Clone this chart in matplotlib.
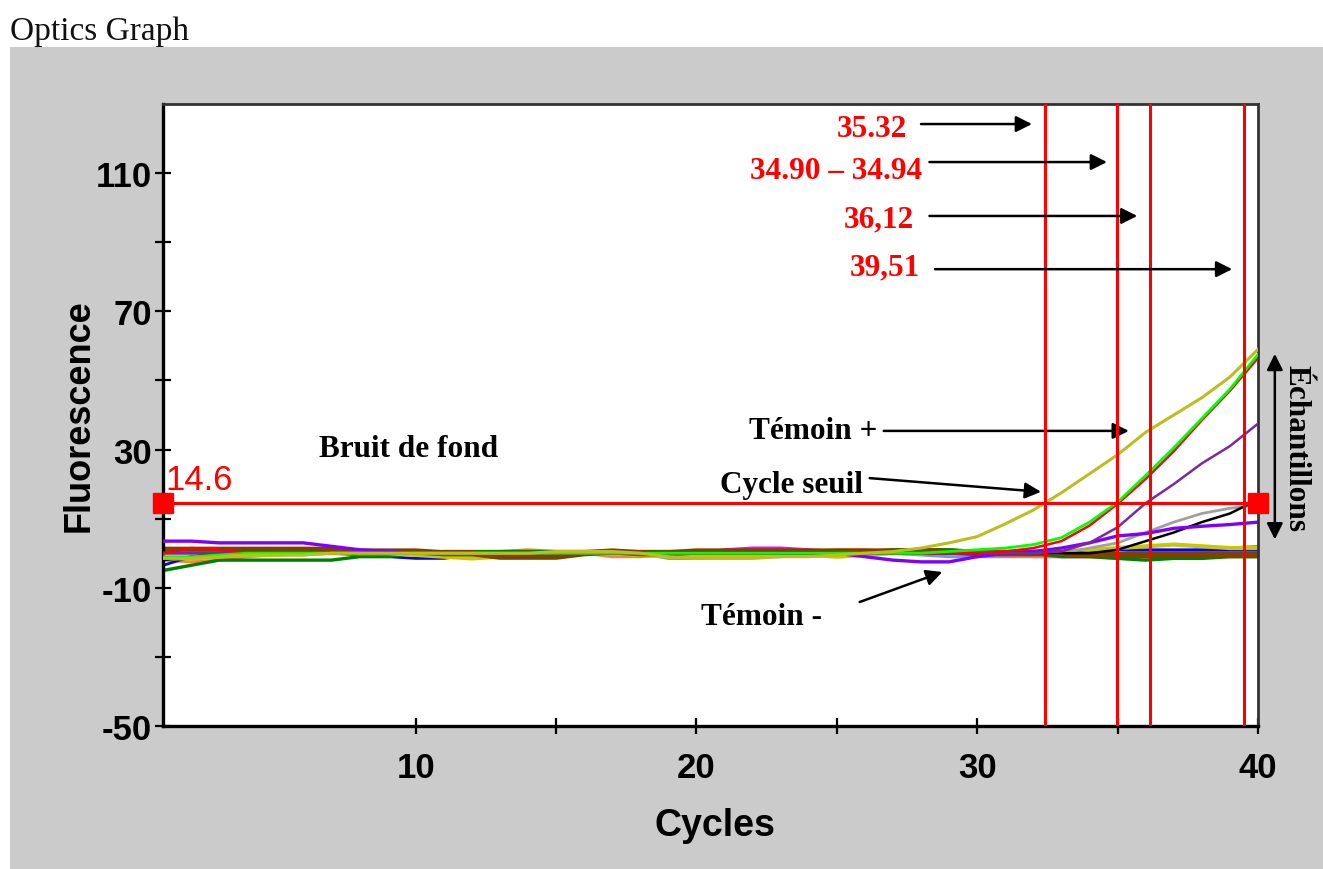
import matplotlib.pyplot as plt
from matplotlib.patches import Rectangle


# DATA

cycles = list(range(1, 41))

threshold = 14.6
ct_lines = [32.4, 34.97, 36.15, 39.5]

temoin_pos = [-1.5, -1.5, -1, -0.5, -0.5, -0.5, 0, 0, 0, 0,
              0, 0, 0, 0, 0.5, 0.5, 0.5, 0, -1, -1.5,
              -1.5, -1.5, -1, -1, -0.5, 0, 0.5, 1.5, 3, 4.8,
              8.5, 12.5, 17.5, 23, 28.5, 35, 40, 45, 51, 59]
green = [-1, -1, -0.5, 0, 0, 0, 0, 0, 0, 0,
         0, 0, 0, 0, 0, 0, 0, 0, 0, 0,
         0, 0, 0, 0, 0, 0, 0, 0, 0.5, 1,
         1.5, 2.5, 4.5, 9, 14.8, 22.5, 30.5, 39, 47.5, 57.5]
red = [0, 1.5, 1, 0, 0, 0, 0, 0, 0, 0,
       0, 0, 0, 0, 0, 0, 0, 0, 0, 0,
       0, 0, 0, 0, 0, 0, 0, 0, 0, 0,
       0.5, 1.5, 3.5, 8, 14.3, 21.5, 29.5, 38.5, 47, 56.5]
purple = [0, 0, 0, 0, 0, 0, 0, 0, 0, 0,
          0, 0, 0, 0, 0, 0, 0, 0, 0, 0,
          0, 0, 0, 0, 0, 0, 0, 0, 0, 0,
          0, 0, 0.5, 3, 7.5, 14.5, 20, 26, 31, 37.5]
gray = [0, 0, 0, 0, 0, 0, 0, 0, 0, 0,
        0, 0, 0, 0, 0, 0, 0, 0, 0, 0,
        0, 0, 0, 0, 0, 0, 0, 0, 0, 0,
        0, 0, 0, 1.5, 3, 6, 9, 11.5, 13, 14]
black = [-2, -1, 0, 0, 0, 0, 0, 0, 0, 0,
         0, 0, 0, 0, 0, 0, 0, 0, 0, 0,
         0, 0, 0, 0, 0, 0, 0, 0, 0, 0,
         0, 0, 0, 0, 1, 3.5, 6, 9, 11.5, 15.5]
violet = [3.5, 3.5, 3, 3, 3, 3, 2, 1, 0.5, 0,
          0, 0, 0, 0, 0, 0, 0, 0, 0, 0,
          0, 0, 0, 0, 0, -1, -2, -2.5, -2.5, -1,
          0, 0.5, 1.5, 3, 5, 5.7, 7.2, 7.8, 8.3, 9]
brown = [1, 1, 1, 1, 1, 1, 1, 0.5, 0.5, 0.5,
         0, 0, -1, -1, -1, 0, 0.5, 0, 0, 0.5,
         0.5, 0.5, 0.5, 0.5, 0.5, 0.5, 0.5, 0.5, 0.5, 0,
         0, 0, 0, -0.5, -0.5, -0.5, -0.5, -0.5, -0.5, -0.5]
dark_green = [-5, -3.5, -2, -2, -2, -2, -2, -1, -1, 0,
              0.5, 0.5, 0.5, 0.5, 0.5, 0.5, 0.5, 0.5, 0.5, 0.5,
              0.5, 0.5, 0.5, 0.5, 0.5, 0.5, 1, 1, 1, 0.5,
              0.5, 0, -1, -1, -1.5, -2, -1.5, -1.5, -1, -1]
blue = [-3.5, -1, -0.5, 0, 0, 0, 0, -0.5, -1, -1.5,
        -1.5, -0.5, 0, 0, 0, 0, 0, 0, 0, 0,
        0, 0, 0, 0, 0, 0, 0, 0, 0, 0,
        0, 0, 0.5, 0.5, 1, 1, 1, 1, 1, 1]
orange = [-2, -2.5, -2, -1, -0.5, -0.5, 0, 0, 0, 0,
          0, 0, 0.5, 1, 0.5, 0, -1, -1, -0.5, 0,
          0, 0, 0, 0.5, 1, 1, 0.5, 0, 0, -0.5,
          -0.5, -1, -1, -1, -1.5, -1.5, -1, -1, -1, -1]
light_blue = [-1.5, -1.5, -1, -0.5, -0.5, 0, 0, 0, 0, 0,
              0, 0, 0, 0, 0, 0, 0, 0, -1.5, -1.5,
              -1, -1, -1, -0.5, 0, 0, 0, -0.5, -1, -1,
              -1, -1, -1, -1, -0.5, 0, 0.5, 1, 1.5, 2]
magenta = [0, 0, 0, 0, 0, 0, 0, 0, 0, 0,
           0, 0, 0, 0, 0, 0, 0, 0, 0, 0,
           1, 1.5, 1.5, 1, 0.5, 0, 0, 0, 0, 0,
           0, 0, 0, 0, 0, 0.5, 0.5, 0.5, 0.5, 0.5]
yellow = [-1.5, -1.5, -1, -0.5, -0.5, 0, 0, 0, 0, -0.5,
          -1, -1.5, -1, -0.5, -0.5, 0, 0, -0.5, -1, -1,
          -1, -1, -0.5, -0.5, -1, -0.5, 0, 0, 0.5, 0.5,
          0.5, 0.5, 0.5, 1, 1.5, 2, 2.5, 2, 1.5, 1.5]

baseline_series = [
    (light_blue, "#6699FF", 2.2),
    (orange, "#FF8040", 2.2),
    (magenta, "#FF00FF", 2.2),
    (blue, "#0000FF", 2.0),
    (dark_green, "#008000", 2.4),
    (yellow, "#C8C800", 3.0),
    (brown, "#804000", 4.5),
]
rising_series = [
    (gray, "#A0A0A0", 2.0),
    (black, "#000000", 1.8),
    (violet, "#8000FF", 2.4),
    (purple, "#7B2A9E", 1.8),
    (red, "#FF0000", 1.8),
    (green, "#00FF00", 2.0),
    (temoin_pos, "#BDBD22", 2.2),
]

SERIF = ["Liberation Serif", "DejaVu Serif"]
SANS = ["Liberation Sans", "DejaVu Sans"]


# FIGURE

fig = plt.figure(figsize=(13.23, 8.70), dpi=100)
fig.patch.set_facecolor("white")
fig.patches.append(Rectangle((10 / 1323, 0), 1, 1 - 48 / 870,
                             transform=fig.transFigure, facecolor="#CBCBCB",
                             edgecolor="none", zorder=-1))
fig.text(10 / 1323, 1 - 40 / 870, "Optics Graph", family=SERIF,
         fontsize=24, color="#111111", va="baseline", ha="left")

ax = fig.add_axes([163 / 1323, 1 - 727 / 870, 1095 / 1323, 622 / 870])
ax.set_facecolor("white")

for values, color, lw in baseline_series:
    ax.plot(cycles, values, color=color, lw=lw, zorder=2)
for values, color, lw in rising_series:
    ax.plot(cycles, values, color=color, lw=lw, zorder=3)

# threshold and Ct markers
ax.axhline(threshold, color="#FF0000", lw=2.2, zorder=4)
ax.plot([1, 40], [threshold, threshold], ls="none", marker="s",
        markersize=14, color="#FF0000", clip_on=False, zorder=6)
for ct in ct_lines:
    ax.axvline(ct, color="#FF0000", lw=2.2, zorder=4)

ax.set_xlim(1, 40)
ax.set_ylim(-50, 130)
ax.set_xticks(range(10, 41, 5))
ax.set_xticklabels(["10", "", "20", "", "30", "", "40"])
ax.set_yticks(range(-50, 111, 20))
ax.set_yticklabels(["-50", "", "-10", "", "30", "", "70", "", "110"])
ax.tick_params(direction="inout", length=12, width=1.6, color="black")
ax.tick_params(axis="x", pad=12)
ax.tick_params(axis="y", pad=2)
for lab in ax.get_xticklabels() + ax.get_yticklabels():
    lab.set_family(SANS)
    lab.set_fontweight("bold")
    lab.set_fontsize(25)

for side in ["left", "bottom"]:
    ax.spines[side].set_linewidth(2.4)
    ax.spines[side].set_color("black")
for side in ["top", "right"]:
    ax.spines[side].set_linewidth(2.0)
    ax.spines[side].set_color("#333333")

ax.set_xlabel("Cycles", family=SANS, fontweight="bold", fontsize=27)
ax.xaxis.set_label_coords(0.504, -0.13)
ax.set_ylabel("Fluorescence", family=SANS, fontweight="bold", fontsize=26)
ax.yaxis.set_label_coords(-0.061, 0.5)

# annotations
ax.text(1.1, 21.4, "14.6", family=SANS, fontsize=25, color="#FF0000",
        ha="left", va="center", zorder=7)

bold_serif = dict(family=SERIF, fontweight="bold", fontsize=22.5)
arrow_props = dict(arrowstyle="-|>", color="black", lw=1.8, mutation_scale=24)

ax.text(9.76, 30.2, "Bruit de fond", ha="center", va="center", **bold_serif)

ct_labels = [
    ("35.32", 27.5, 123.0, 27.9, 124.2, 32.05),
    ("34.90 \u2013 34.94", 28.03, 110.9, 28.2, 113.2, 34.72),
    ("36,12", 27.75, 96.7, 28.2, 97.6, 35.8),
    ("39,51", 27.96, 82.8, 28.4, 82.2, 39.18),
]
for label, tx, ty, ax0, ay, ax1 in ct_labels:
    ax.text(tx, ty, label, color="#FF0000", ha="right", va="center",
            zorder=7, **bold_serif)
    ax.annotate("", xy=(ax1, ay), xytext=(ax0, ay), arrowprops=arrow_props,
                annotation_clip=False, zorder=7)

ax.text(26.43, 35.4, "T\u00e9moin +", ha="right", va="center", **bold_serif)
ax.annotate("", xy=(35.5, 35.4), xytext=(26.57, 35.4), arrowprops=arrow_props)

ax.text(25.93, 20.0, "Cycle seuil", ha="right", va="center", **bold_serif)
ax.annotate("", xy=(32.37, 17.7), xytext=(26.07, 21.8), arrowprops=arrow_props)

ax.text(22.33, -18.2, "T\u00e9moin -", ha="center", va="center", **bold_serif)
ax.annotate("", xy=(28.85, -5.15), xytext=(25.72, -14.4), arrowprops=arrow_props)

ax.annotate("", xy=(40.6, 58.5), xytext=(40.6, 3.2), annotation_clip=False,
            arrowprops=dict(arrowstyle="<|-|>", color="black", lw=1.8,
                            mutation_scale=24))
ax.text(41.35, 30.7, "\u00c9chantillons", rotation=-90, ha="center",
        va="center", clip_on=False, **bold_serif)

fig.savefig("out.png", dpi=100)
